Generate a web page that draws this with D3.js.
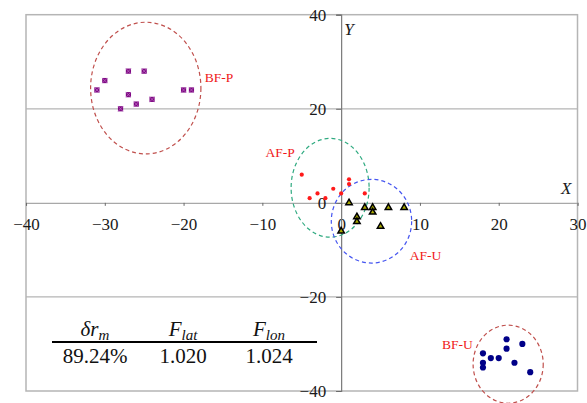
<!DOCTYPE html>
<html>
<head>
<meta charset="utf-8">
<script src="https://cdn.jsdelivr.net/npm/d3@7"></script>
<style>
  body { margin: 0; background: #fff; }
  svg { display: block; }
  svg text { font-family: 'Liberation Serif', serif; }
</style>
</head>
<body>
<div id="chart"></div>
<script>
// point groups, [x, y]
const bfP = [[-27, 28], [-25, 28], [-30, 26], [-31, 24], [-27, 23], [-24, 22], [-26, 21], [-28, 20], [-20, 24], [-19, 24]];
const afP = [[-5, 6], [1, 5], [1, 4], [-1, 3], [-3, 2], [0, 2], [3, 2], [-4, 1], [-2, 1]];
const afU = [[1, 0], [3, -1], [4, -1], [4, -2], [6, -1], [8, -1], [2, -3], [2, -4], [5, -5], [0, -6]];
const bfU = [[21, -29], [23, -30], [21, -31], [18, -32], [19, -33], [20, -33], [18, -34], [22, -34], [18, -35], [24, -36]];

// dashed ellipses round each group: centre, radii (data units)
const clusterNames = ['BF-P', 'AF-P', 'AF-U', 'BF-U'];
const clusterCx = [-24.8, -1.4, 3.85, 21.2];
const clusterCy = [24.4, 3.2, -3.9, -34.3];
const clusterRx = [7.0, 4.95, 5.1, 4.45];
const clusterRy = [14, 10.5, 8.9, 8.3];
const labelX = [-17.3, -9.6, 8.7, 12.8];
const labelY = [26.7, 10.8, -11.1, -30];

const xTicks = [-40, -30, -20, -10, 0, 10, 20, 30];
const yTicks = [-40, -20, 0, 20, 40];

const tableHeads = [['δr', 'm'], ['F', 'lat'], ['F', 'lon']];
const tableVals = ['89.24%', '1.020', '1.024'];

const W = 587, H = 403;
const svg = d3.select('#chart').append('svg')
  .attr('width', W).attr('height', H)
  .attr('font-family', 'Liberation Serif');

const x = d3.scaleLinear().domain([-40, 30]).range([26, 577.5]);
const y = d3.scaleLinear().domain([-40, 40]).range([391, 14.7]);

const serif = 'Liberation Serif';

// frame + horizontal grid
svg.append('rect')
  .attr('x', x(-40)).attr('y', y(40))
  .attr('width', x(30) - x(-40)).attr('height', y(-40) - y(40))
  .attr('fill', 'none').attr('stroke', '#b5b5b5').attr('stroke-width', 1.5);

svg.selectAll('.grid')
  .data([20, -20])
  .enter().append('line')
  .attr('x1', x(-40)).attr('x2', x(30))
  .attr('y1', d => y(d)).attr('y2', d => y(d))
  .attr('stroke', '#b5b5b5').attr('stroke-width', 1.2);

// axes through the origin
const xAxis = svg.append('g')
  .attr('transform', `translate(0,${y(0)})`)
  .call(d3.axisBottom(x).tickValues(xTicks).tickSize(3).tickPadding(12));
xAxis.select('.domain').attr('stroke', '#a8a8a8').attr('stroke-width', 1.2);

const yAxis = svg.append('g')
  .attr('transform', `translate(${x(0)},0)`)
  .call(d3.axisLeft(y).tickValues(yTicks).tickSize(5).tickPadding(10));
yAxis.select('.domain').attr('stroke', '#7a7a7a').attr('stroke-width', 1.2);

[xAxis, yAxis].forEach(g => {
  g.attr('font-family', serif).attr('font-size', 17);
  g.selectAll('.tick line').attr('stroke', '#6a6a6a');
  g.selectAll('.tick text')
    .attr('fill', '#1a1a1a')
    .style('font-family', serif)
    .style('font-size', '17px');
});

svg.append('text')
  .attr('x', x(0) + 3).attr('y', 35)
  .text('Y')
  .style('font-family', serif).style('font-style', 'italic').style('font-size', '17px')
  .attr('fill', '#1a1a1a');
svg.append('text')
  .attr('x', 561).attr('y', 194)
  .text('X')
  .style('font-family', serif).style('font-style', 'italic').style('font-size', '17px')
  .attr('fill', '#1a1a1a');

// ellipses
const ellColors = ['#c0504d', '#2faa80', '#4656f0', '#c0504d'];
svg.selectAll('.ell')
  .data(clusterNames)
  .enter().append('ellipse')
  .attr('cx', (d, i) => x(clusterCx[i]))
  .attr('cy', (d, i) => y(clusterCy[i]))
  .attr('rx', (d, i) => x(clusterRx[i]) - x(0))
  .attr('ry', (d, i) => y(0) - y(clusterRy[i]))
  .attr('fill', 'none')
  .attr('stroke', (d, i) => ellColors[i])
  .attr('stroke-width', 1.2)
  .attr('stroke-dasharray', '4,3');

svg.selectAll('.clabel')
  .data(clusterNames)
  .enter().append('text')
  .attr('x', (d, i) => x(labelX[i]))
  .attr('y', (d, i) => y(labelY[i]))
  .attr('dy', '0.35em')
  .text(d => d)
  .attr('fill', '#f01818')
  .style('font-family', serif)
  .style('font-size', '13.5px');

// markers
svg.selectAll('.bfp')
  .data(bfP)
  .enter().append('g')
  .attr('transform', d => `translate(${x(d[0])},${y(d[1])})`)
  .each(function () {
    const g = d3.select(this);
    g.append('rect').attr('x', -2.6).attr('y', -2.6).attr('width', 5.2).attr('height', 5.2)
      .attr('fill', '#7e0a82');
    g.append('path').attr('d', 'M-2.6,-2.6L2.6,2.6M2.6,-2.6L-2.6,2.6')
      .attr('stroke', '#c070c8').attr('stroke-width', 0.7);
  });

svg.selectAll('.afp')
  .data(afP)
  .enter().append('circle')
  .attr('cx', d => x(d[0])).attr('cy', d => y(d[1]))
  .attr('r', 2.1)
  .attr('fill', '#ff1a1a');

const tri = d3.symbol().type(d3.symbolTriangle).size(18);
svg.selectAll('.afu')
  .data(afU)
  .enter().append('path')
  .attr('transform', d => `translate(${x(d[0])},${y(d[1])})`)
  .attr('d', tri)
  .attr('fill', '#a8a800')
  .attr('stroke', '#000')
  .attr('stroke-width', 1.5);

const dia = d3.symbol().type(d3.symbolCircle).size(30);
svg.selectAll('.bfu')
  .data(bfU)
  .enter().append('path')
  .attr('transform', d => `translate(${x(d[0])},${y(d[1])})`)
  .attr('d', dia)
  .attr('fill', '#000088');

// little table in the lower left
const colX = [95, 183, 269];
const head = svg.selectAll('.thead')
  .data(tableHeads)
  .enter().append('text')
  .attr('x', (d, i) => colX[i])
  .attr('y', 336)
  .attr('text-anchor', 'middle')
  .attr('fill', '#111')
  .style('font-family', serif)
  .style('font-size', '21px')
  .style('font-style', 'italic');
head.append('tspan').text(d => d[0]);
head.append('tspan').attr('dy', 4).style('font-size', '15px').text(d => d[1]);

svg.append('line')
  .attr('x1', 52).attr('x2', 317)
  .attr('y1', 342).attr('y2', 342)
  .attr('stroke', '#000').attr('stroke-width', 2);

svg.selectAll('.tval')
  .data(tableVals)
  .enter().append('text')
  .attr('x', (d, i) => colX[i])
  .attr('y', 363)
  .attr('text-anchor', 'middle')
  .attr('fill', '#111')
  .style('font-family', serif)
  .style('font-size', '21px')
  .text(d => d);
</script>
</body>
</html>
